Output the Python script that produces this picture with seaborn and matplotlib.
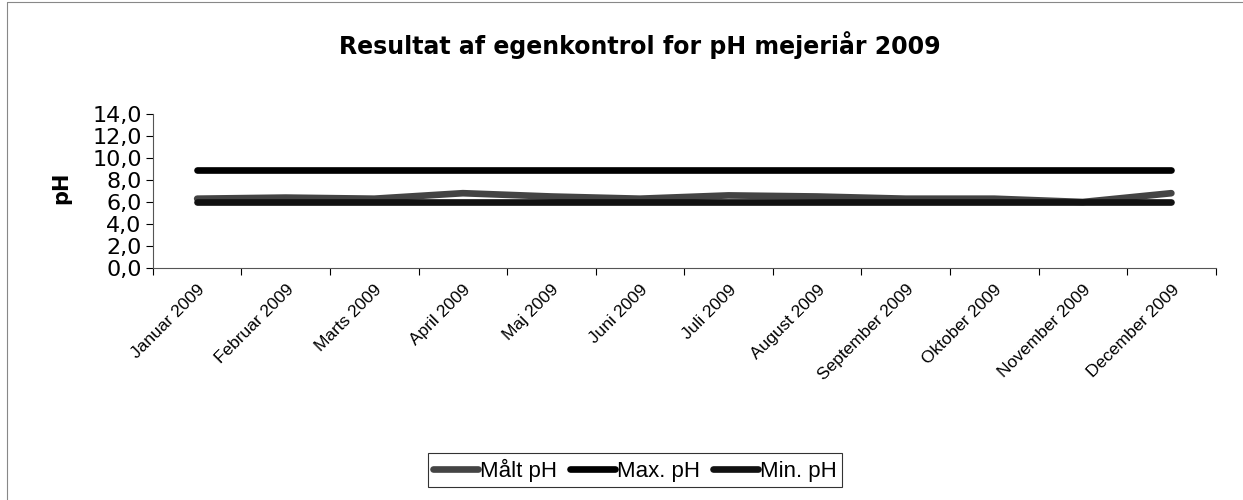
import pandas as pd
import numpy as np
import seaborn as sns
import matplotlib.pyplot as plt
from matplotlib.ticker import FuncFormatter, FixedLocator

# data
months = ['Januar 2009', 'Februar 2009', 'Marts 2009', 'April 2009', 'Maj 2009',
          'Juni 2009', 'Juli 2009', 'August 2009', 'September 2009',
          'Oktober 2009', 'November 2009', 'December 2009']
maalt_ph = [6.3, 6.4, 6.3, 6.8, 6.5, 6.3, 6.6, 6.5, 6.3, 6.3, 6.0, 6.8]
max_ph = [8.9] * 12
min_ph = [6.0] * 12
series_names = ['Målt pH', 'Max. pH', 'Min. pH']

df = pd.DataFrame({'Måned': months, 'Målt pH': maalt_ph,
                   'Max. pH': max_ph, 'Min. pH': min_ph})
long = df.melt(id_vars='Måned', var_name='Serie', value_name='pH')
long['x'] = long['Måned'].map({m: i for i, m in enumerate(months)})

sns.set_style('white')
plt.rcParams['font.family'] = ['Liberation Sans', 'DejaVu Sans']
plt.rcParams['text.color'] = 'black'
plt.rcParams['axes.labelcolor'] = 'black'
plt.rcParams['xtick.color'] = 'black'
plt.rcParams['ytick.color'] = 'black'

fig = plt.figure(figsize=(12.43, 5), dpi=100)
ax = fig.add_axes([0.123, 0.464, 0.855, 0.308])

sns.lineplot(data=long, x='x', y='pH', hue='Serie', hue_order=series_names,
             palette=['#444444', '#000000', '#111111'], linewidth=4.8,
             sort=False, ax=ax, legend=True)

ax.set_xlim(-0.5, 11.5)
ax.set_ylim(0, 14)
ax.set_yticks(np.arange(0, 15, 2))
ax.yaxis.set_major_formatter(FuncFormatter(lambda v, p: f'{v:.1f}'.replace('.', ',')))
ax.tick_params(axis='y', labelsize=16, length=5, width=0.8, direction='out', left=True, pad=3)
for t in ax.get_yticklabels():
    t.set_fontfamily('DejaVu Sans')

ax.set_xticks(range(12))
ax.set_xticklabels(months, rotation=45, ha='right', rotation_mode='anchor', fontsize=12.5)
ax.xaxis.set_minor_locator(FixedLocator(np.arange(-0.5, 12, 1)))
ax.tick_params(axis='x', which='major', length=0, pad=10)
ax.tick_params(axis='x', which='minor', length=5, width=0.8, bottom=True, direction='out')

for s in ['top', 'right']:
    ax.spines[s].set_visible(False)
for s in ['left', 'bottom']:
    ax.spines[s].set_color('#555555')
    ax.spines[s].set_linewidth(0.8)

ax.set_xlabel('')
ax.set_ylabel('pH', fontsize=15, fontweight='bold', family='DejaVu Sans')
ax.yaxis.set_label_coords(-0.077, 0.52)

fig.text(0.515, 0.91, 'Resultat af egenkontrol for pH mejeriår 2009', fontsize=17,
         fontweight='bold', family='DejaVu Sans', ha='center', va='center')

handles, labels = ax.get_legend_handles_labels()
ax.get_legend().remove()
leg = fig.legend(handles, labels, loc='center', bbox_to_anchor=(0.511, 0.06), ncol=3,
                 fontsize=16, frameon=True, fancybox=False, edgecolor='black',
                 handlelength=2.0, handletextpad=0.1, columnspacing=0.6,
                 borderpad=0.25, borderaxespad=0)
leg.get_frame().set_linewidth(0.8)

# chart frame (left and top edges visible)
fig.add_artist(plt.Line2D([0.0056, 0.0056], [0, 0.997], color='#888888', lw=0.8))
fig.add_artist(plt.Line2D([0.0056, 1.0], [0.997, 0.997], color='#888888', lw=0.8))

fig.savefig('out.png', dpi=100, facecolor='white')
